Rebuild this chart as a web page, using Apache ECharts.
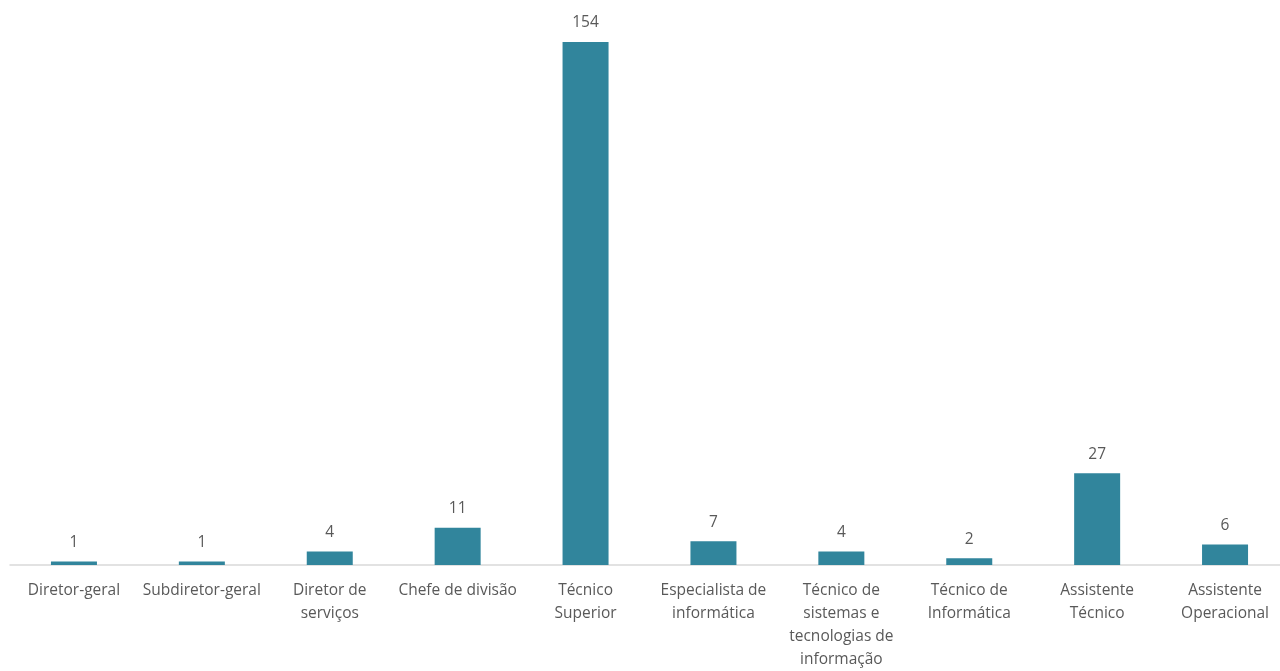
<!DOCTYPE html>
<html>
<head>
<meta charset="utf-8">
<script src="https://cdn.jsdelivr.net/npm/echarts@6/dist/echarts.min.js"></script>
<style>
  html,body{margin:0;padding:0;background:#fff;overflow:hidden;}
  #chart{width:1289px;height:671px;}
</style>
</head>
<body>
<div id="chart"></div>
<script>
const categories = ["Diretor-geral","Subdiretor-geral","Diretor de serviços","Chefe de divisão","Técnico Superior","Especialista de informática","Técnico de sistemas e tecnologias de informação","Técnico de Informática","Assistente Técnico","Assistente Operacional"];
const tickLabels = ["Diretor-geral","Subdiretor-geral","Diretor de\nserviços","Chefe de divisão","Técnico\nSuperior","Especialista de\ninformática","Técnico de\nsistemas e\ntecnologias de\ninformação","Técnico de\nInformática","Assistente\nTécnico","Assistente\nOperacional"];
const values = [1,1,4,11,154,7,4,2,27,6];

const chart = echarts.init(document.getElementById("chart"));
chart.setOption({
  animation:false,
  textStyle:{fontFamily:"'Open Sans', 'Noto Sans', sans-serif"},
  grid:{left:10,right:0,top:42,bottom:105,containLabel:false},
  xAxis:{
    type:"category",
    data:categories,
    axisTick:{show:false},
    axisLine:{lineStyle:{color:"#d9d9d9",width:1.5}},
    axisLabel:{
      interval:0,
      color:"#595959",
      fontSize:15.5,
      lineHeight:23,
      margin:14,
      formatter:(v,i)=>tickLabels[i]
    }
  },
  yAxis:{type:"value",min:0,max:"dataMax",show:false,splitLine:{show:false}},
  series:[{
    type:"bar",
    data:values,
    barWidth:46,
    itemStyle:{color:"#31859c"},
    label:{show:true,position:"top",distance:11,color:"#595959",fontSize:15.5}
  }]
});
</script>
</body>
</html>
